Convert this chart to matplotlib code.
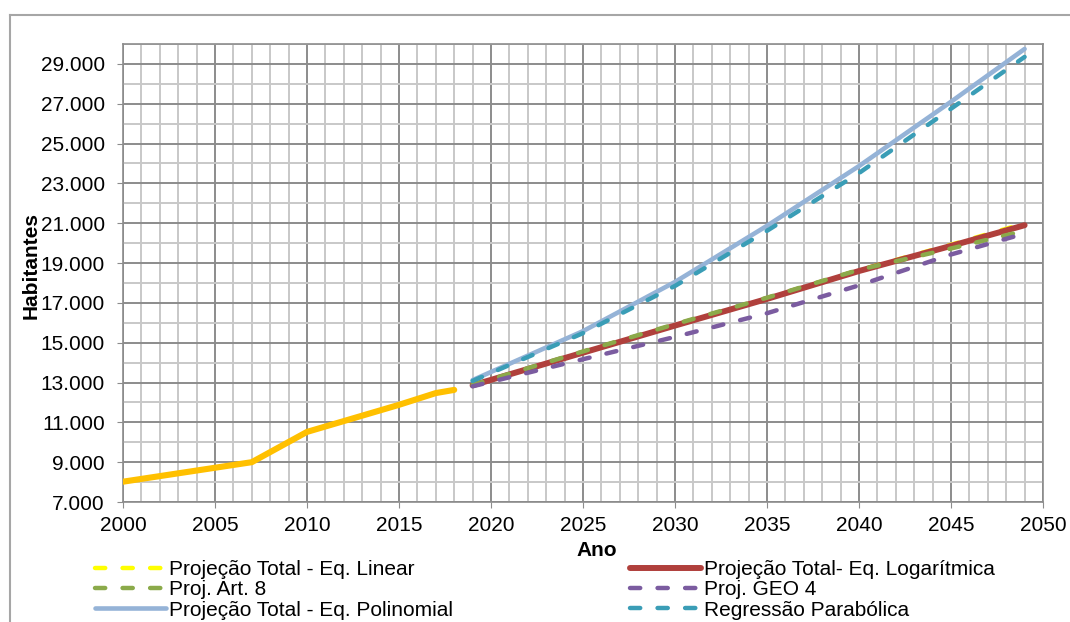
import matplotlib
matplotlib.use("Agg")
import matplotlib.pyplot as plt
from matplotlib.lines import Line2D
from matplotlib.ticker import MultipleLocator, FuncFormatter

plt.rcParams['font.family'] = ['Liberation Sans', 'DejaVu Sans']

# ---- data ----
hist_years = [2000, 2007, 2010, 2015, 2017, 2018]
hist_pop = [8020, 9000, 10520, 11880, 12470, 12630]

proj_years = [2019, 2025, 2030, 2035, 2040, 2045, 2049]
proj_linear = [12850, 14490, 15870, 17230, 18640, 19920, 20990]
proj_log = [12860, 14500, 15860, 17200, 18600, 19860, 20900]
proj_art8 = [12880, 14560, 15930, 17260, 18660, 19730, 20620]
proj_geo4 = [12810, 14170, 15290, 16480, 17880, 19430, 20480]
proj_poly = [13120, 15580, 18050, 20870, 23870, 27100, 29750]
proj_parab = [13080, 15480, 17850, 20620, 23520, 26750, 29350]

labels = {
    'linear': 'Projeção Total - Eq. Linear',
    'log': 'Projeção Total- Eq. Logarítmica',
    'art8': 'Proj. Art. 8',
    'geo4': 'Proj. GEO 4',
    'poly': 'Projeção Total - Eq. Polinomial',
    'parab': 'Regressão Parabólica',
}

W, H = 1070, 622
fig = plt.figure(figsize=(W / 100, H / 100), dpi=100)
ax = fig.add_axes([123 / W, 1 - 502 / H, (1043 - 123) / W, (502 - 44) / H])

# outer chart border (partially visible)
fig.add_artist(Line2D([10 / W, 1.0], [1 - 15 / H, 1 - 15 / H], transform=fig.transFigure,
                      color='#A6A6A6', lw=1.5))
fig.add_artist(Line2D([10 / W, 10 / W], [0, 1 - 15 / H], transform=fig.transFigure,
                      color='#A6A6A6', lw=1.5))

ax.set_xlim(2000, 2050)
ax.set_ylim(7000, 30000)
ax.xaxis.set_major_locator(MultipleLocator(5))
ax.xaxis.set_minor_locator(MultipleLocator(1))
ax.set_yticks(list(range(7000, 30000, 2000)))
ax.yaxis.set_minor_locator(MultipleLocator(1000))
ax.yaxis.set_major_formatter(FuncFormatter(lambda v, p: f"{int(v):,}".replace(',', '.')))

ax.grid(which='major', color='#8C8C8C', lw=1.4, zorder=0)
ax.grid(which='minor', color='#C8C8C8', lw=1.4, zorder=0)
ax.set_axisbelow(True)
for s in ax.spines.values():
    s.set_color('#8C8C8C')
    s.set_linewidth(1.2)
ax.tick_params(which='major', length=4, color='#8C8C8C', labelsize=15)
ax.tick_params(axis='y', pad=9)
ax.tick_params(axis='x', pad=6)
ax.tick_params(which='minor', length=0)

dash = (2.3, 3.9)
lw_d = 3.2
ax.plot(hist_years, hist_pop, color='#FFC000', lw=4.4, solid_capstyle='round',
        solid_joinstyle='round', zorder=3)
l_lin, = ax.plot(proj_years, proj_linear, color='#FFFF00', lw=lw_d, dashes=dash,
                 dash_capstyle='round', label=labels['linear'], zorder=3)
l_log, = ax.plot(proj_years, proj_log, color='#B0403C', lw=4.3, solid_capstyle='round',
                 label=labels['log'], zorder=4)
l_art, = ax.plot(proj_years, proj_art8, color='#8BAA4A', lw=lw_d, dashes=dash,
                 dash_capstyle='round', label=labels['art8'], zorder=5)
l_geo, = ax.plot(proj_years, proj_geo4, color='#7B5CA0', lw=lw_d, dashes=dash,
                 dash_capstyle='round', label=labels['geo4'], zorder=5)
l_pol, = ax.plot(proj_years, proj_poly, color='#95B3D7', lw=3.3, solid_capstyle='round',
                 label=labels['poly'], zorder=4)
l_par, = ax.plot(proj_years, proj_parab, color='#3A9DB6', lw=lw_d, dashes=dash,
                 dash_capstyle='round', label=labels['parab'], zorder=5)

fig.text(597 / W, 1 - 551 / H, 'Ano', fontsize=15, fontweight='bold',
         ha='center', va='center')
fig.text(31 / W, 1 - 265 / H, 'Habitantes', fontsize=15, fontweight='bold',
         ha='center', va='center', rotation=90)

handles = [l_lin, l_art, l_pol, l_log, l_geo, l_par]
fig.legend(handles=handles, labels=[h.get_label() for h in handles], ncol=2,
           loc='upper left', bbox_to_anchor=(95 / W, 1 - 560 / H), frameon=False,
           fontsize=15, handlelength=3.4, handletextpad=0.15, columnspacing=8.5,
           labelspacing=0.06, borderaxespad=0, borderpad=0)

fig.savefig('out.png', dpi=100)
